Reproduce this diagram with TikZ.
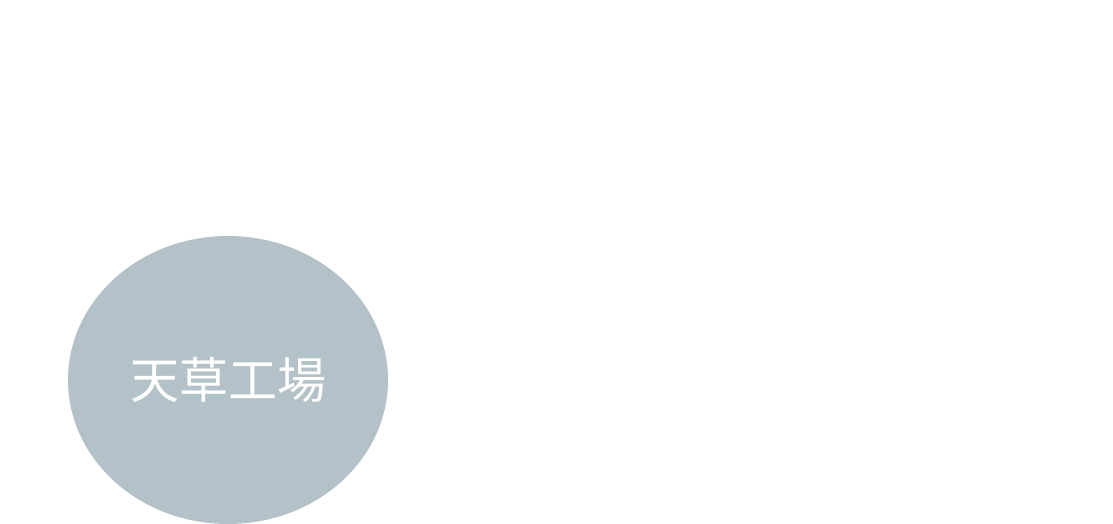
\documentclass[tikz,border=0pt]{standalone}
\usepackage{fontspec}
\usepackage{tikz}
\newfontfamily\cjk{Noto Sans CJK JP}
\definecolor{plantgray}{HTML}{B3C1C8}
\tikzset{plant/.style={ellipse, fill=plantgray, minimum width=320pt, minimum height=288pt, inner sep=0pt, text=white, font=\cjk\fontsize{49pt}{49pt}\selectfont}}
\usetikzlibrary{shapes.geometric}

\begin{document}
\begin{tikzpicture}[x=1pt,y=1pt]
                        \useasboundingbox (0,0) rectangle (1113,524);
                        \node [plant] (amakusa) at (228,144) {天草工場};
                    \end{tikzpicture}
\end{document}
